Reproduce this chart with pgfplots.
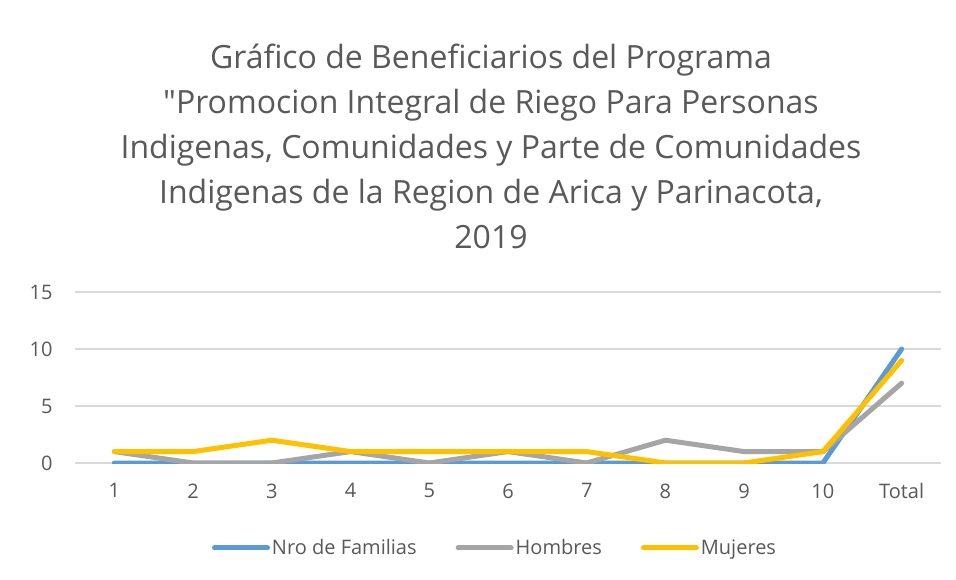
\documentclass[border=0pt]{standalone}
\usepackage{fontspec}
\setmainfont{Open Sans}[Ligatures=TeXOff]
\usepackage{pgfplots}
\pgfplotsset{compat=1.18}
\definecolor{cblue}{HTML}{5B9BD5}
\definecolor{cgray}{HTML}{A5A5A5}
\definecolor{cyel}{HTML}{FFC000}
\definecolor{ctext}{HTML}{595959}
\definecolor{cgrid}{HTML}{D9D9D9}
\begin{document}
\begin{tikzpicture}[x=1pt,y=1pt]
\useasboundingbox[fill=white] (0,0) rectangle (956,579);
\node[align=center, text=ctext, font=\fontsize{32}{45}\selectfont, anchor=center] at (491,433)
{Gráfico de Beneficiarios del Programa\\ "Promocion Integral de Riego Para Personas\\ Indigenas, Comunidades y Parte de Comunidades\\ Indigenas de la Region de Arica y Parinacota,\\ 2019};
\begin{axis}[
  at={(75pt,116pt)}, anchor=south west,
  scale only axis, width=866pt, height=171pt,
  xmin=-0.5, xmax=10.5, ymin=0, ymax=15,
  xtick={0,...,10},
  xticklabels={1,2,3,4,5,6,7,8,9,10,Total},
  ytick={0,5,10,15},
  ymajorgrids, grid style={cgrid, line width=1.2pt},
  axis line style={draw=none},
  tick style={draw=none},
  /pgf/number format/assume math mode=true,
  ticklabel style={font=\fontsize{20}{24}\selectfont, text=ctext},
  xticklabel style={yshift=-17pt},
  yticklabel style={xshift=-19pt},
  legend columns=3,
  legend style={at={(0.485,-0.497)}, anchor=center, draw=none, fill=none,
    font=\fontsize{20}{24}\selectfont, text=ctext,
    /tikz/every even column/.append style={column sep=37pt}},
  legend image code/.code={\draw[#1, line width=5pt, line cap=round] (0pt,0pt) -- (53pt,0pt);},
  every axis plot/.append style={line width=5pt, line join=round, line cap=round, mark=none},
]
\addplot[cblue] coordinates {(0,0)(1,0)(2,0)(3,0)(4,0)(5,0)(6,0)(7,0)(8,0)(9,0)(10,10)};
\addlegendentry{Nro de Familias}
\addplot[cgray] coordinates {(0,1)(1,0)(2,0)(3,1)(4,0)(5,1)(6,0)(7,2)(8,1)(9,1)(10,7)};
\addlegendentry{Hombres}
\addplot[cyel] coordinates {(0,1)(1,1)(2,2)(3,1)(4,1)(5,1)(6,1)(7,0)(8,0)(9,1)(10,9)};
\addlegendentry{Mujeres}
\end{axis}
\end{tikzpicture}
\end{document}
